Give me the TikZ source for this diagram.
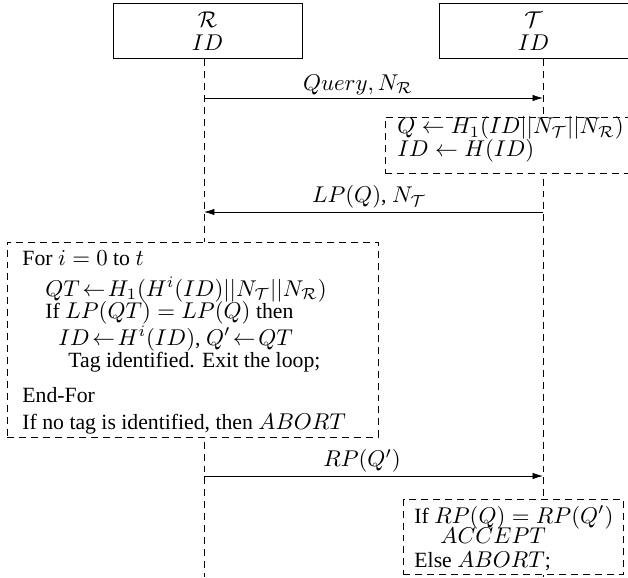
\RequirePackage{fix-cm}
\documentclass[tikz,border=0pt]{standalone}
\usepackage[no-math]{fontspec}
\setmainfont{Liberation Serif}[Scale=0.952]
\usetikzlibrary{arrows.meta}
\begin{document}
\begin{tikzpicture}[x=0.46pt,y=-0.46pt,
  font=\fontsize{10.5pt}{12.5pt}\selectfont,
  actor/.style={draw, line width=0.46pt, minimum width=86.94pt, minimum height=25.3pt, align=center, inner sep=0pt},
  life/.style={dash pattern=on 3.2pt off 2.3pt, line width=0.37pt},
  dbox/.style={draw, fill=white, dash pattern=on 3.2pt off 2.3pt, line width=0.37pt, inner sep=0pt},
  msg/.style={-{Latex[length=4.8pt,width=3pt]}, line width=0.37pt},
  lbl/.style={anchor=south, inner sep=1.4pt},
  txt/.style={anchor=base west, inner sep=0pt}]
\useasboundingbox (0,0) rectangle (628,577);
\clip (0,0) rectangle (628,577);

% actors
\node[actor] (R) at (207.5,31.5) {$\mathcal{R}$\\[-2pt]$ID$};
\node[actor] (T) at (533.5,31.5) {$\mathcal{T}$\\[-2pt]$ID$};

% lifelines
\coordinate (rtop) at (204,59);
\coordinate (rbot) at (204,577);
\coordinate (ttop) at (543,59);
\coordinate (tbot) at (543,577);
\draw[life] (rtop) -- (rbot);
\draw[life] (ttop) -- (tbot);

% message 1
\coordinate (r1) at (204,98);
\coordinate (t1) at (543,98);
\draw[msg] (r1) -- (t1);
\node[lbl] (l1) at (358,98) {$Query, N_{\mathcal{R}}$};

% tag computation
\node[dbox, minimum width=115.46pt, minimum height=25.76pt] (tb) at (510.5,145) {};
\node[txt] (tb1) at (397,134) {$Q \leftarrow H_1(ID||N_{\mathcal{T}}||N_{\mathcal{R}})$};
\node[txt] (tb2) at (397,157) {$ID \leftarrow H(ID)$};

% message 2
\coordinate (t2) at (543,212);
\coordinate (r2) at (204,212);
\draw[msg] (t2) -- (r2);
\node[lbl] (l2) at (369,212) {$LP(Q)$, $N_{\mathcal{T}}$};

% reader loop
\node[dbox, minimum width=170.66pt, minimum height=89.7pt] (rb) at (192.5,339.5) {};
\node[txt] (rb1) at (22,265) {For $i = 0$ to $t$};
\node[txt] (rb2) at (45,296) {$QT\!\leftarrow\! H_1(H^i(ID)||N_{\mathcal{T}}||N_{\mathcal{R}})$};
\node[txt] (rb3) at (45,318) {If $LP(QT) = LP(Q)$ then};
\node[txt] (rb4) at (58,345) {$ID\!\leftarrow\! H^i(ID)$, $Q'\!\leftarrow\! QT$};
\node[txt] (rb5) at (68,367) {Tag identified. Exit the loop;};
\node[txt] (rb6) at (22,402) {End-For};
\node[txt] (rb7) at (22,429) {If no tag is identified, then $ABORT$};

% message 3
\coordinate (r3) at (204,476);
\coordinate (t3) at (543,476);
\draw[msg] (r3) -- (t3);
\node[lbl] (l3) at (362,476) {$RP(Q')$};

% tag verification
\node[dbox, minimum width=101.2pt, minimum height=34.5pt] (fb) at (513.5,537) {};
\node[txt] (fb1) at (414,523) {If $RP(Q) = RP(Q')$};
\node[txt] (fb2) at (440,543) {$ACCEPT$};
\node[txt] (fb3) at (414,567) {Else $ABORT$;};
\end{tikzpicture}
\end{document}
